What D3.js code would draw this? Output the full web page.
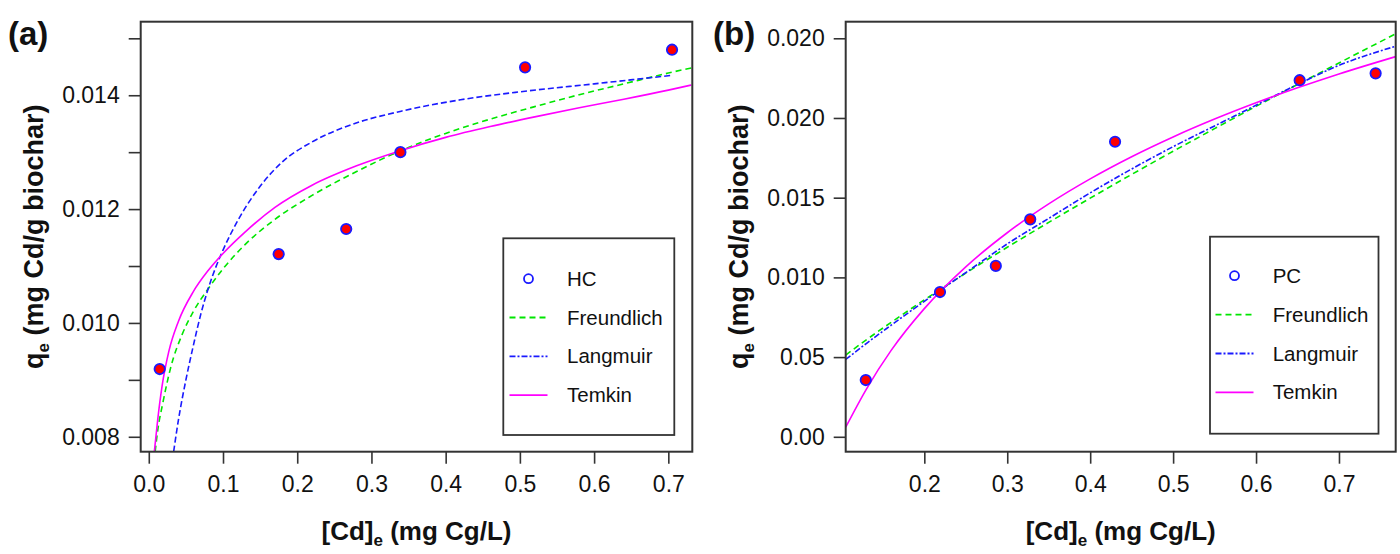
<!DOCTYPE html>
<html><head><meta charset="utf-8">
<script src="https://cdn.jsdelivr.net/npm/d3@7"></script>
<style>
html,body{margin:0;padding:0;background:#fff;}
svg{display:block;font-family:"Liberation Sans",Arial,sans-serif;}
</style></head>
<body>
<svg id="chart" width="1400" height="554"></svg>
<script>
// ---------- Panel (a) : HC ----------
const hcX = [0.0147, 0.175, 0.266, 0.339, 0.507, 0.705];
const hcY = [0.00919, 0.01121, 0.01165, 0.01300, 0.01449, 0.01480];

const aFreundX = [0.0086, 0.012, 0.0187, 0.03, 0.045, 0.06, 0.08, 0.1, 0.13, 0.17, 0.22, 0.28, 0.34, 0.4, 0.46, 0.52, 0.58, 0.64, 0.7, 0.731];
const aFreundY = [0.00774, 0.00811, 0.00858, 0.00924, 0.00980, 0.01020, 0.01060, 0.01095, 0.01138, 0.01182, 0.01224, 0.01266, 0.01303, 0.01333, 0.01358, 0.01380, 0.01401, 0.01420, 0.01439, 0.01448];

const aLangX = [0.0335, 0.04, 0.05, 0.06, 0.07, 0.08, 0.09, 0.1, 0.12, 0.15, 0.18, 0.22, 0.27, 0.34, 0.42, 0.5, 0.6, 0.705];
const aLangY = [0.00774, 0.0083, 0.0090, 0.0096, 0.01015, 0.0106, 0.01097, 0.01128, 0.0118, 0.0124, 0.01283, 0.01318, 0.01347, 0.01372, 0.01392, 0.01406, 0.0142, 0.01435];

const aTemkX = [0.0075, 0.012, 0.018, 0.027, 0.04, 0.06, 0.08, 0.1, 0.13, 0.17, 0.22, 0.28, 0.34, 0.4, 0.46, 0.52, 0.58, 0.64, 0.7, 0.731];
const aTemkY = [0.00774, 0.0083, 0.0089, 0.0095, 0.01003, 0.01055, 0.01092, 0.01122, 0.0116, 0.01203, 0.01242, 0.01276, 0.01303, 0.01326, 0.01345, 0.01362, 0.01378, 0.01393, 0.01409, 0.01418];

const aXTicks = [0, 0.1, 0.2, 0.3, 0.4, 0.5, 0.6, 0.7];
const aXTickLabels = ["0.0", "0.1", "0.2", "0.3", "0.4", "0.5", "0.6", "0.7"];
const aYTicks = [0.008, 0.009, 0.010, 0.011, 0.012, 0.013, 0.014, 0.015];
const aYTickLabels = ["0.008", "", "0.010", "", "0.012", "", "0.014", ""];

// ---------- Panel (b) : PC ----------
const pcX = [0.1294, 0.2189, 0.2862, 0.3277, 0.430, 0.6526, 0.7442];
const pcY = [0.00356, 0.00908, 0.01072, 0.01364, 0.01851, 0.02237, 0.02280];

const bFreundX = [0.1052, 0.13, 0.16, 0.2, 0.25, 0.3, 0.35, 0.4, 0.45, 0.5, 0.55, 0.6, 0.65, 0.7, 0.7684];
const bFreundY = [0.00513, 0.00608, 0.00718, 0.00859, 0.01027, 0.01189, 0.01345, 0.01497, 0.01646, 0.01791, 0.01933, 0.02073, 0.02210, 0.02345, 0.02528];

const bLangX = [0.1052, 0.13, 0.16, 0.2, 0.25, 0.3, 0.35, 0.4, 0.45, 0.5, 0.55, 0.6, 0.65, 0.7, 0.7684];
const bLangY = [0.00485, 0.00585, 0.0070, 0.0085, 0.0103, 0.0121, 0.0137, 0.0153, 0.0168, 0.0182, 0.0195, 0.0208, 0.0221, 0.0233, 0.0245];

const bTemkX = [0.1052, 0.13, 0.16, 0.2, 0.25, 0.3, 0.35, 0.4, 0.45, 0.5, 0.55, 0.6, 0.65, 0.7, 0.7684];
const bTemkY = [0.0006, 0.00298, 0.00542, 0.00804, 0.01066, 0.01280, 0.01461, 0.01618, 0.01757, 0.01881, 0.01993, 0.02095, 0.02189, 0.02276, 0.02385];

const bXTicks = [0.2, 0.3, 0.4, 0.5, 0.6, 0.7];
const bXTickLabels = ["0.2", "0.3", "0.4", "0.5", "0.6", "0.7"];
const bYTicks = [0, 0.005, 0.010, 0.015, 0.020, 0.025];
const bYTickLabels = ["0.00", "0.05", "0.010", "0.015", "0.020", "0.020"];

const legendA = ["HC", "Freundlich", "Langmuir", "Temkin"];
const legendB = ["PC", "Freundlich", "Langmuir", "Temkin"];

// ---------- drawing ----------
const svg = d3.select("#chart");
const zip = (xs, ys) => xs.map((x, i) => [x, ys[i]]);

function panel(cfg) {
  const {id, box, xDom, yDom, pts, curves, xTicks, xLabels, yTicks, yLabels, legend, leg, tag} = cfg;
  const x = d3.scaleLinear().domain(xDom).range([box.l, box.r]);
  const y = d3.scaleLinear().domain(yDom).range([box.b, box.t]);
  const g = svg.append("g");

  g.append("clipPath").attr("id", "clip" + id)
    .append("rect").attr("x", box.l).attr("y", box.t)
    .attr("width", box.r - box.l).attr("height", box.b - box.t);

  const line = d3.line().x(d => x(d[0])).y(d => y(d[1])).curve(d3.curveMonotoneX);
  const cg = g.append("g").attr("clip-path", `url(#clip${id})`);
  curves.forEach(c => {
    cg.append("path").attr("d", line(c.data)).attr("fill", "none")
      .attr("stroke", c.color).attr("stroke-width", 1.6)
      .attr("stroke-dasharray", c.dash || null);
  });
  cg.selectAll("circle.pt").data(pts).enter().append("circle")
    .attr("cx", d => x(d[0])).attr("cy", d => y(d[1])).attr("r", 5.2)
    .attr("fill", "#ff0000").attr("stroke", "#1a1aff").attr("stroke-width", 1.8);

  // axes
  const xa = g.append("g").attr("transform", `translate(0,${box.b})`)
    .call(d3.axisBottom(x).tickValues(xTicks).tickSize(12).tickPadding(12)
      .tickFormat((d, i) => xLabels[i]));
  const ya = g.append("g").attr("transform", `translate(${box.l},0)`)
    .call(d3.axisLeft(y).tickValues(yTicks).tickSize(12).tickPadding(9)
      .tickFormat((d, i) => yLabels[i]));
  [xa, ya].forEach(a => {
    a.select(".domain").remove();
    a.selectAll(".tick line").attr("stroke", "#333").attr("stroke-width", 1.6);
    a.selectAll(".tick text").attr("fill", "#111").style("font-size", "23px")
      .style("font-family", "'Liberation Sans', Arial, sans-serif");
  });

  // box
  g.append("rect").attr("x", box.l).attr("y", box.t)
    .attr("width", box.r - box.l).attr("height", box.b - box.t)
    .attr("fill", "none").attr("stroke", "#333").attr("stroke-width", 2);

  // axis titles
  const xt = g.append("text").attr("x", (box.l + box.r) / 2).attr("y", 540)
    .attr("text-anchor", "middle").attr("font-weight", "bold").attr("font-size", 26).attr("fill", "#111");
  xt.append("tspan").text("[Cd]");
  xt.append("tspan").text("e").attr("font-size", 17).attr("dy", 6);
  xt.append("tspan").text(" (mg Cg/L)").attr("dy", -6);

  const yt = g.append("text")
    .attr("transform", `translate(${box.l - 98},${(box.t + box.b) / 2}) rotate(-90)`)
    .attr("text-anchor", "middle").attr("font-weight", "bold").attr("font-size", 27).attr("fill", "#111");
  yt.append("tspan").text("q");
  yt.append("tspan").text("e").attr("font-size", 17).attr("dy", 6);
  yt.append("tspan").text(" (mg Cd/g biochar)").attr("dy", -6);

  // panel tag
  g.append("text").attr("x", tag.x).attr("y", tag.y).text(tag.t)
    .attr("font-weight", "bold").attr("font-size", 33).attr("fill", "#111");

  // legend
  const lg = g.append("g");
  lg.append("rect").attr("x", leg.l).attr("y", leg.t).attr("width", leg.w).attr("height", leg.h)
    .attr("fill", "#fff").attr("stroke", "#333").attr("stroke-width", 1.8);
  const styles = [
    {type: "pt"},
    {color: "#00e600", dash: "6,4"},
    {color: "#1a1aff", dash: "6,2,2,2"},
    {color: "#ff00ff", dash: null}
  ];
  legend.forEach((name, i) => {
    const cy = leg.row0 + i * leg.step;
    const s = styles[i];
    if (s.type === "pt") {
      lg.append("circle").attr("cx", leg.sym).attr("cy", cy).attr("r", 4.5)
        .attr("fill", "none").attr("stroke", "#1a1aff").attr("stroke-width", 1.8);
    } else {
      lg.append("line").attr("x1", leg.sym - 19).attr("x2", leg.sym + 19)
        .attr("y1", cy).attr("y2", cy).attr("stroke", s.color).attr("stroke-width", 1.8)
        .attr("stroke-dasharray", s.dash);
    }
    lg.append("text").attr("x", leg.tx).attr("y", cy + 7).text(name)
      .attr("font-size", 20.5).attr("fill", "#111");
  });
}

panel({
  id: "a",
  box: {l: 140.7, r: 692.3, t: 21.7, b: 451.7},
  xDom: [-0.0109, 0.7323], yDom: [0.007738, 0.015292],
  pts: zip(hcX, hcY),
  curves: [
    {data: zip(aFreundX, aFreundY), color: "#00e600", dash: "6,4"},
    {data: zip(aLangX, aLangY), color: "#1a1aff", dash: "6,3"},
    {data: zip(aTemkX, aTemkY), color: "#ff00ff", dash: null}
  ],
  xTicks: aXTicks, xLabels: aXTickLabels, yTicks: aYTicks, yLabels: aYTickLabels,
  legend: legendA,
  leg: {l: 503.3, t: 238.3, w: 171, h: 196.7, sym: 528.5, tx: 567, row0: 278.7, step: 38.8},
  tag: {x: 8, y: 45, t: "(a)"}
});

panel({
  id: "b",
  box: {l: 845.7, r: 1395.7, t: 21.7, b: 451.7},
  xDom: [0.1052, 0.7684], yDom: [-0.000935, 0.02604],
  pts: zip(pcX, pcY),
  curves: [
    {data: zip(bFreundX, bFreundY), color: "#00e600", dash: "6,4"},
    {data: zip(bLangX, bLangY), color: "#1a1aff", dash: "6,2,2,2"},
    {data: zip(bTemkX, bTemkY), color: "#ff00ff", dash: null}
  ],
  xTicks: bXTicks, xLabels: bXTickLabels, yTicks: bYTicks, yLabels: bYTickLabels,
  legend: legendB,
  leg: {l: 1210, t: 236.7, w: 168.5, h: 197, sym: 1234.5, tx: 1272.7, row0: 275.7, step: 38.9},
  tag: {x: 713, y: 45, t: "(b)"}
});
</script>
</body></html>
